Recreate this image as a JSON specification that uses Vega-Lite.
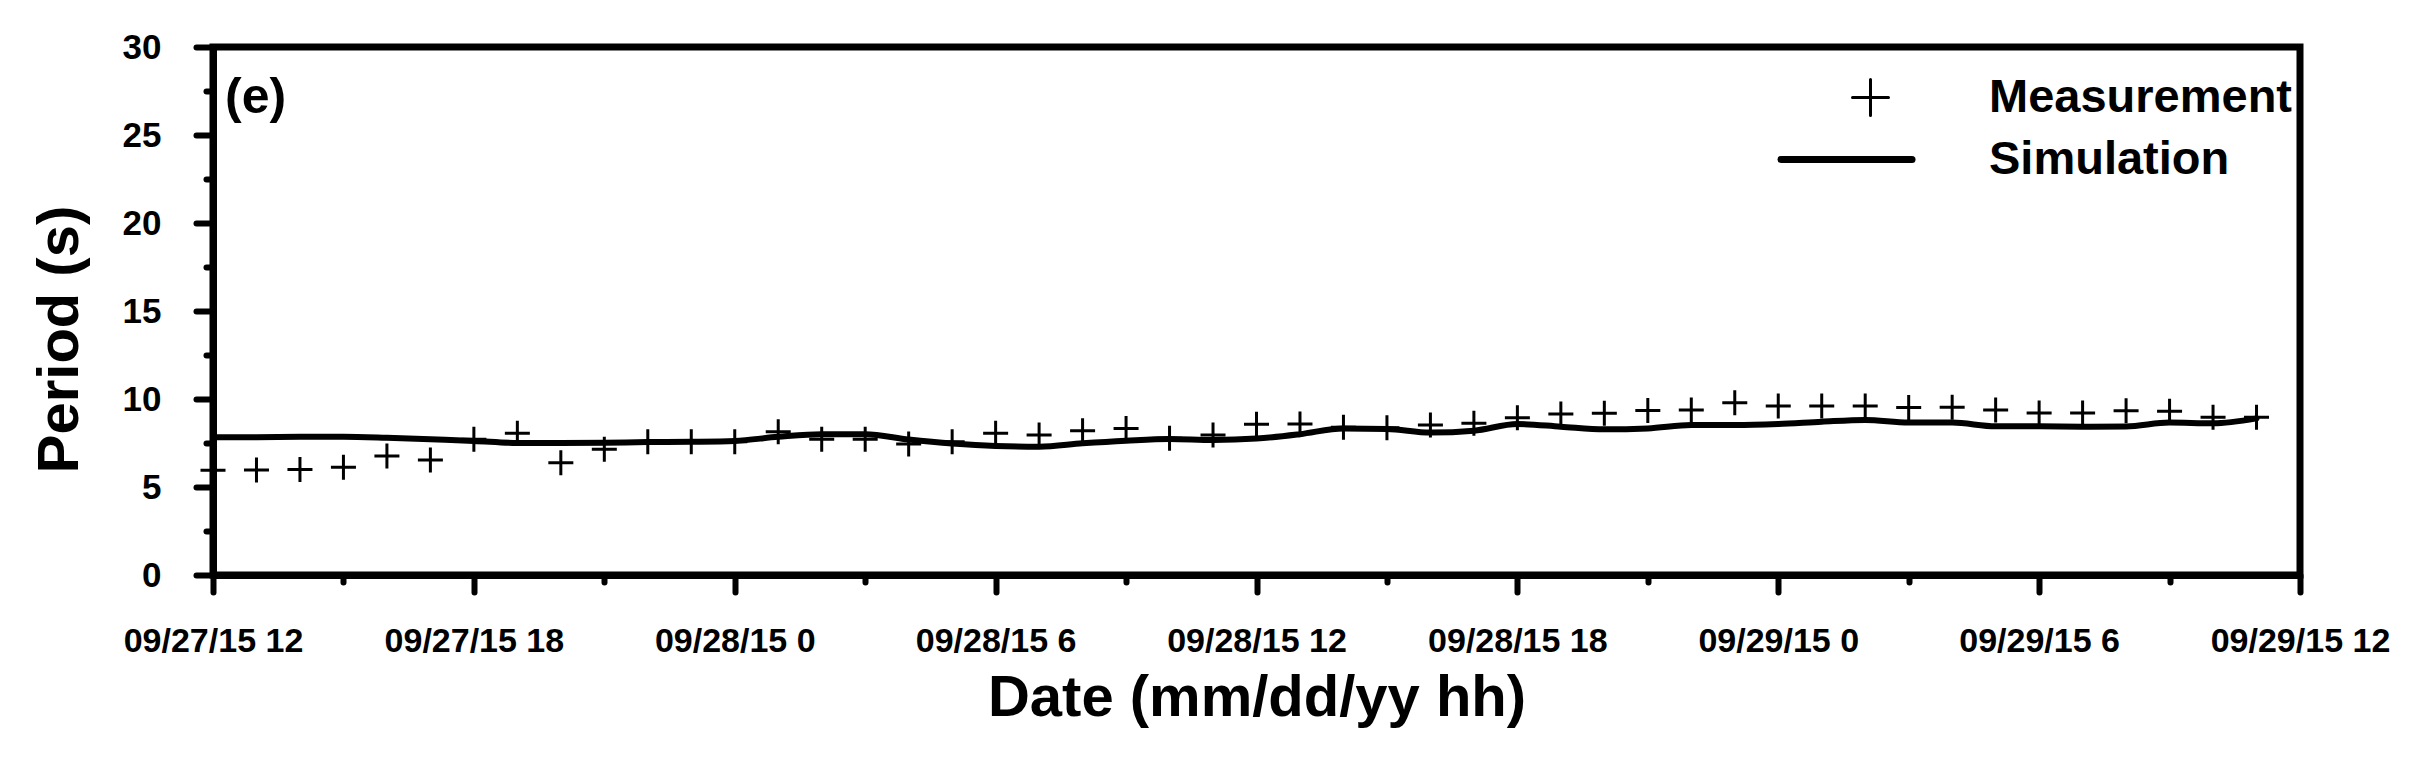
{
  "$schema": "https://vega.github.io/schema/vega-lite/v6.json",
  "width": 2087,
  "height": 528,
  "autosize": {"type": "none"},
  "padding": {"left": 213, "top": 47, "right": 118, "bottom": 185},
  "background": "white",
  "config": {
    "view": {"stroke": "black", "strokeWidth": 7},
    "font": "Liberation Sans"
  },
  "datasets": {
    "meas": [
      {"time": "2015-09-27T12:00:00Z", "period": 5.95, "series": "Measurement"},
      {"time": "2015-09-27T13:00:00Z", "period": 5.97, "series": "Measurement"},
      {"time": "2015-09-27T14:00:00Z", "period": 6.0, "series": "Measurement"},
      {"time": "2015-09-27T15:00:00Z", "period": 6.12, "series": "Measurement"},
      {"time": "2015-09-27T16:00:00Z", "period": 6.76, "series": "Measurement"},
      {"time": "2015-09-27T17:00:00Z", "period": 6.53, "series": "Measurement"},
      {"time": "2015-09-27T18:00:00Z", "period": 7.71, "series": "Measurement"},
      {"time": "2015-09-27T19:00:00Z", "period": 8.05, "series": "Measurement"},
      {"time": "2015-09-27T20:00:00Z", "period": 6.38, "series": "Measurement"},
      {"time": "2015-09-27T21:00:00Z", "period": 7.14, "series": "Measurement"},
      {"time": "2015-09-27T22:00:00Z", "period": 7.57, "series": "Measurement"},
      {"time": "2015-09-27T23:00:00Z", "period": 7.57, "series": "Measurement"},
      {"time": "2015-09-28T00:00:00Z", "period": 7.57, "series": "Measurement"},
      {"time": "2015-09-28T01:00:00Z", "period": 8.14, "series": "Measurement"},
      {"time": "2015-09-28T02:00:00Z", "period": 7.71, "series": "Measurement"},
      {"time": "2015-09-28T03:00:00Z", "period": 7.71, "series": "Measurement"},
      {"time": "2015-09-28T04:00:00Z", "period": 7.44, "series": "Measurement"},
      {"time": "2015-09-28T05:00:00Z", "period": 7.57, "series": "Measurement"},
      {"time": "2015-09-28T06:00:00Z", "period": 8.05, "series": "Measurement"},
      {"time": "2015-09-28T07:00:00Z", "period": 7.95, "series": "Measurement"},
      {"time": "2015-09-28T08:00:00Z", "period": 8.2, "series": "Measurement"},
      {"time": "2015-09-28T09:00:00Z", "period": 8.33, "series": "Measurement"},
      {"time": "2015-09-28T10:00:00Z", "period": 7.77, "series": "Measurement"},
      {"time": "2015-09-28T11:00:00Z", "period": 7.95, "series": "Measurement"},
      {"time": "2015-09-28T12:00:00Z", "period": 8.56, "series": "Measurement"},
      {"time": "2015-09-28T13:00:00Z", "period": 8.58, "series": "Measurement"},
      {"time": "2015-09-28T14:00:00Z", "period": 8.39, "series": "Measurement"},
      {"time": "2015-09-28T15:00:00Z", "period": 8.36, "series": "Measurement"},
      {"time": "2015-09-28T16:00:00Z", "period": 8.52, "series": "Measurement"},
      {"time": "2015-09-28T17:00:00Z", "period": 8.62, "series": "Measurement"},
      {"time": "2015-09-28T18:00:00Z", "period": 8.94, "series": "Measurement"},
      {"time": "2015-09-28T19:00:00Z", "period": 9.15, "series": "Measurement"},
      {"time": "2015-09-28T20:00:00Z", "period": 9.19, "series": "Measurement"},
      {"time": "2015-09-28T21:00:00Z", "period": 9.34, "series": "Measurement"},
      {"time": "2015-09-28T22:00:00Z", "period": 9.38, "series": "Measurement"},
      {"time": "2015-09-28T23:00:00Z", "period": 9.79, "series": "Measurement"},
      {"time": "2015-09-29T00:00:00Z", "period": 9.6, "series": "Measurement"},
      {"time": "2015-09-29T01:00:00Z", "period": 9.6, "series": "Measurement"},
      {"time": "2015-09-29T02:00:00Z", "period": 9.6, "series": "Measurement"},
      {"time": "2015-09-29T03:00:00Z", "period": 9.51, "series": "Measurement"},
      {"time": "2015-09-29T04:00:00Z", "period": 9.53, "series": "Measurement"},
      {"time": "2015-09-29T05:00:00Z", "period": 9.38, "series": "Measurement"},
      {"time": "2015-09-29T06:00:00Z", "period": 9.2, "series": "Measurement"},
      {"time": "2015-09-29T07:00:00Z", "period": 9.2, "series": "Measurement"},
      {"time": "2015-09-29T08:00:00Z", "period": 9.33, "series": "Measurement"},
      {"time": "2015-09-29T09:00:00Z", "period": 9.3, "series": "Measurement"},
      {"time": "2015-09-29T10:00:00Z", "period": 8.96, "series": "Measurement"},
      {"time": "2015-09-29T11:00:00Z", "period": 8.96, "series": "Measurement"}
    ],
    "sim": [
      {"time": "2015-09-27T12:00:00Z", "period": 7.82, "series": "Simulation"},
      {"time": "2015-09-27T13:00:00Z", "period": 7.83, "series": "Simulation"},
      {"time": "2015-09-27T14:00:00Z", "period": 7.85, "series": "Simulation"},
      {"time": "2015-09-27T15:00:00Z", "period": 7.86, "series": "Simulation"},
      {"time": "2015-09-27T16:00:00Z", "period": 7.8, "series": "Simulation"},
      {"time": "2015-09-27T17:00:00Z", "period": 7.71, "series": "Simulation"},
      {"time": "2015-09-27T18:00:00Z", "period": 7.62, "series": "Simulation"},
      {"time": "2015-09-27T19:00:00Z", "period": 7.5, "series": "Simulation"},
      {"time": "2015-09-27T20:00:00Z", "period": 7.5, "series": "Simulation"},
      {"time": "2015-09-27T21:00:00Z", "period": 7.52, "series": "Simulation"},
      {"time": "2015-09-27T22:00:00Z", "period": 7.55, "series": "Simulation"},
      {"time": "2015-09-27T23:00:00Z", "period": 7.57, "series": "Simulation"},
      {"time": "2015-09-28T00:00:00Z", "period": 7.62, "series": "Simulation"},
      {"time": "2015-09-28T01:00:00Z", "period": 7.85, "series": "Simulation"},
      {"time": "2015-09-28T02:00:00Z", "period": 8.0, "series": "Simulation"},
      {"time": "2015-09-28T03:00:00Z", "period": 8.0, "series": "Simulation"},
      {"time": "2015-09-28T04:00:00Z", "period": 7.7, "series": "Simulation"},
      {"time": "2015-09-28T05:00:00Z", "period": 7.47, "series": "Simulation"},
      {"time": "2015-09-28T06:00:00Z", "period": 7.33, "series": "Simulation"},
      {"time": "2015-09-28T07:00:00Z", "period": 7.29, "series": "Simulation"},
      {"time": "2015-09-28T08:00:00Z", "period": 7.48, "series": "Simulation"},
      {"time": "2015-09-28T09:00:00Z", "period": 7.63, "series": "Simulation"},
      {"time": "2015-09-28T10:00:00Z", "period": 7.73, "series": "Simulation"},
      {"time": "2015-09-28T11:00:00Z", "period": 7.67, "series": "Simulation"},
      {"time": "2015-09-28T12:00:00Z", "period": 7.75, "series": "Simulation"},
      {"time": "2015-09-28T13:00:00Z", "period": 8.0, "series": "Simulation"},
      {"time": "2015-09-28T14:00:00Z", "period": 8.33, "series": "Simulation"},
      {"time": "2015-09-28T15:00:00Z", "period": 8.3, "series": "Simulation"},
      {"time": "2015-09-28T16:00:00Z", "period": 8.09, "series": "Simulation"},
      {"time": "2015-09-28T17:00:00Z", "period": 8.2, "series": "Simulation"},
      {"time": "2015-09-28T18:00:00Z", "period": 8.58, "series": "Simulation"},
      {"time": "2015-09-28T19:00:00Z", "period": 8.43, "series": "Simulation"},
      {"time": "2015-09-28T20:00:00Z", "period": 8.28, "series": "Simulation"},
      {"time": "2015-09-28T21:00:00Z", "period": 8.33, "series": "Simulation"},
      {"time": "2015-09-28T22:00:00Z", "period": 8.52, "series": "Simulation"},
      {"time": "2015-09-28T23:00:00Z", "period": 8.52, "series": "Simulation"},
      {"time": "2015-09-29T00:00:00Z", "period": 8.58, "series": "Simulation"},
      {"time": "2015-09-29T01:00:00Z", "period": 8.71, "series": "Simulation"},
      {"time": "2015-09-29T02:00:00Z", "period": 8.81, "series": "Simulation"},
      {"time": "2015-09-29T03:00:00Z", "period": 8.66, "series": "Simulation"},
      {"time": "2015-09-29T04:00:00Z", "period": 8.66, "series": "Simulation"},
      {"time": "2015-09-29T05:00:00Z", "period": 8.45, "series": "Simulation"},
      {"time": "2015-09-29T06:00:00Z", "period": 8.45, "series": "Simulation"},
      {"time": "2015-09-29T07:00:00Z", "period": 8.43, "series": "Simulation"},
      {"time": "2015-09-29T08:00:00Z", "period": 8.44, "series": "Simulation"},
      {"time": "2015-09-29T09:00:00Z", "period": 8.66, "series": "Simulation"},
      {"time": "2015-09-29T10:00:00Z", "period": 8.62, "series": "Simulation"},
      {"time": "2015-09-29T11:00:00Z", "period": 8.9, "series": "Simulation"}
    ]
  },
  "layer": [
    {
      "data": {"name": "sim"},
      "mark": {"type": "line", "strokeWidth": 6, "interpolate": "monotone", "strokeCap": "round"},
      "encoding": {
        "x": {
          "field": "time",
          "type": "temporal",
          "scale": {
            "type": "utc",
            "domain": [
              {"year": 2015, "month": 9, "date": 27, "hours": 12, "utc": true},
              {"year": 2015, "month": 9, "date": 29, "hours": 12, "utc": true}
            ],
            "nice": false
          },
          "axis": {
            "title": "Date (mm/dd/yy hh)",
            "titleFont": "Liberation Sans",
            "titleFontWeight": "bold",
            "titleFontSize": 58,
            "titleColor": "black",
            "titleBaseline": "alphabetic",
            "titleY": 140,
            "values": [
              {"year": 2015, "month": 9, "date": 27, "hours": 12, "utc": true},
              {"year": 2015, "month": 9, "date": 27, "hours": 15, "utc": true},
              {"year": 2015, "month": 9, "date": 27, "hours": 18, "utc": true},
              {"year": 2015, "month": 9, "date": 27, "hours": 21, "utc": true},
              {"year": 2015, "month": 9, "date": 28, "hours": 0, "utc": true},
              {"year": 2015, "month": 9, "date": 28, "hours": 3, "utc": true},
              {"year": 2015, "month": 9, "date": 28, "hours": 6, "utc": true},
              {"year": 2015, "month": 9, "date": 28, "hours": 9, "utc": true},
              {"year": 2015, "month": 9, "date": 28, "hours": 12, "utc": true},
              {"year": 2015, "month": 9, "date": 28, "hours": 15, "utc": true},
              {"year": 2015, "month": 9, "date": 28, "hours": 18, "utc": true},
              {"year": 2015, "month": 9, "date": 28, "hours": 21, "utc": true},
              {"year": 2015, "month": 9, "date": 29, "hours": 0, "utc": true},
              {"year": 2015, "month": 9, "date": 29, "hours": 3, "utc": true},
              {"year": 2015, "month": 9, "date": 29, "hours": 6, "utc": true},
              {"year": 2015, "month": 9, "date": 29, "hours": 9, "utc": true},
              {"year": 2015, "month": 9, "date": 29, "hours": 12, "utc": true}
            ],
            "labelExpr": "utchours(datum.value) % 6 === 0 ? utcFormat(datum.value, '%m/%d/%y %-H') : ''",
            "labelFont": "Liberation Sans",
            "labelFontWeight": "bold",
            "labelFontSize": 34,
            "labelColor": "black",
            "labelPadding": 32,
            "labelLimit": 0,
            "labelOverlap": false,
            "labelFlush": false,
            "labelBound": false,
            "grid": false,
            "domainColor": "black",
            "domainWidth": 7,
            "tickColor": "black",
            "tickWidth": 6,
            "tickCap": "round",
            "tickSize": {"condition": {"test": "utchours(datum.value) % 6 === 0", "value": 17}, "value": 7}
          }
        },
        "y": {
          "field": "period",
          "type": "quantitative",
          "scale": {"domain": [0, 30], "nice": false, "zero": true},
          "axis": {
            "title": "Period (s)",
            "titleFont": "Liberation Sans",
            "titleFontWeight": "bold",
            "titleFontSize": 58,
            "titleColor": "black",
            "titleAngle": -90,
            "titleAlign": "center",
            "titleBaseline": "alphabetic",
            "titleX": -136,
            "titleY": 292,
            "values": [0, 2.5, 5, 7.5, 10, 12.5, 15, 17.5, 20, 22.5, 25, 27.5, 30],
            "labelExpr": "datum.value % 5 === 0 ? datum.label : ''",
            "labelFont": "Liberation Sans",
            "labelFontWeight": "bold",
            "labelFontSize": 35,
            "labelColor": "black",
            "labelPadding": 35,
            "labelLimit": 0,
            "labelOverlap": false,
            "labelBound": false,
            "labelFlush": false,
            "grid": false,
            "domainColor": "black",
            "domainWidth": 7,
            "tickColor": "black",
            "tickWidth": 6,
            "tickCap": "round",
            "tickSize": {"condition": {"test": "datum.value % 5 === 0", "value": 17}, "value": 7}
          }
        },
        "color": {
          "field": "series",
          "type": "nominal",
          "scale": {"domain": ["Measurement", "Simulation"], "range": ["black", "black"]},
          "legend": {
            "title": null,
            "orient": "none",
            "legendX": 1634,
            "legendY": 27,
            "padding": 0,
            "labelFont": "Liberation Sans",
            "labelFontWeight": "bold",
            "labelFontSize": 47,
            "labelColor": "black",
            "labelOffset": 95,
            "symbolSize": 1296,
            "rowPadding": 13,
            "labelLimit": 0,
            "encode": {
              "symbols": {
                "update": {
                  "shape": {"signal": "datum.value === 'Measurement' ? 'M-1,0H1M0,-1V1' : 'M-1.366,0H0.634'"},
                  "size": {"signal": "datum.value === 'Measurement' ? 1296 : 17161"},
                  "strokeWidth": {"signal": "datum.value === 'Measurement' ? 3 : 7"},
                  "strokeCap": {"value": "round"},
                  "stroke": {"value": "black"},
                  "fill": {"value": "transparent"},
                  "opacity": {"value": 1}
                }
              }
            }
          }
        }
      }
    },
    {
      "data": {"name": "meas"},
      "mark": {"type": "point", "shape": "M-1,0H1M0,-1V1", "size": 625, "strokeWidth": 3, "filled": false, "opacity": 1},
      "encoding": {
        "x": {"field": "time", "type": "temporal"},
        "y": {"field": "period", "type": "quantitative"},
        "color": {"field": "series", "type": "nominal"}
      }
    },
    {
      "data": {"values": [{"label": "(e)"}]},
      "mark": {"type": "text", "font": "Liberation Sans", "fontSize": 50, "fontWeight": "bold", "align": "left", "baseline": "middle", "dx": 12, "fill": "black"},
      "encoding": {
        "x": {"datum": {"year": 2015, "month": 9, "date": 27, "hours": 12, "utc": true}, "type": "temporal"},
        "y": {"datum": 27.1, "type": "quantitative"},
        "text": {"field": "label"}
      }
    }
  ]
}
